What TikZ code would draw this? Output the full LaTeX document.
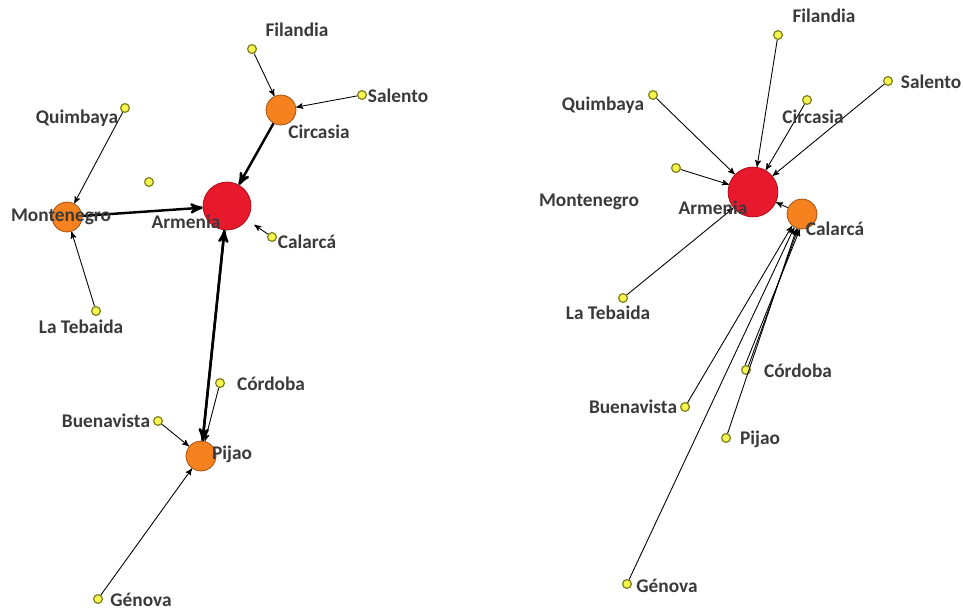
\documentclass[tikz,border=0pt]{standalone}
\usepackage{fontspec}
\setmainfont{Carlito}
\usepackage{tikz}
\usetikzlibrary{ arrows, positioning }
\definecolor{townfill}{HTML}{F6F650}
\definecolor{townline}{HTML}{7F7F1E}
\definecolor{hubfill}{HTML}{F5821F}
\definecolor{hubline}{HTML}{A9581A}
\definecolor{corefill}{HTML}{E8192C}
\definecolor{coreline}{HTML}{B3101E}
\definecolor{lbltext}{HTML}{3A3A3A}
\tikzset{
>=stealth', % filled arrow heads
x=0.02cm, y=-0.02cm, % one unit is one pixel of the picture
town/.style={circle, draw=townline, fill=townfill, line width=0.7pt, inner sep=0pt, minimum size=5pt}, % small yellow towns
hub/.style={circle, draw=hubline, fill=hubfill, line width=0.5pt, inner sep=0pt, minimum size=17pt}, % orange towns
core/.style={circle, draw=coreline, fill=corefill, line width=0.5pt, inner sep=0pt, minimum size=27.2pt}, % the red centre
lbl/.style={text=lbltext, font=\bfseries\fontsize{11}{13}\selectfont, inner sep=0pt},
weak/.style={->, line width=0.5pt},
strong/.style={->, line width=1.4pt},
}
\begin{document}
\begin{tikzpicture}
  \useasboundingbox (0,0) rectangle (963,612);

  % left network
  \node[core] (armL) at (227,206) {};
  \node[hub] (cirL) at (281,110) {};
  \node[hub] (monL) at (67,217) {};
  \node[hub] (pijL) at (201,456) {};
  \node[town] (filL) at (252,49) {};
  \node[town] (salL) at (362,95) {};
  \node[town] (quiL) at (125,108) {};
  \node[town] (anoL) at (149,182) {};
  \node[town] (calL) at (272,237) {};
  \node[town] (tebL) at (96,311) {};
  \node[town] (corL) at (220,383) {};
  \node[town] (bueL) at (158,421) {};
  \node[town] (genL) at (98,599) {};

  \path (filL) edge[weak] (cirL)
        (salL) edge[weak] (cirL)
        (cirL) edge[strong] (armL)
        (quiL) edge[weak] (monL)
        (tebL) edge[weak] (monL)
        (monL) edge[strong] (armL)
        (calL) edge[weak, shorten >=5pt] (armL)
        (pijL) edge[strong] (armL)
        (armL) edge[strong] (pijL)
        (corL) edge[weak] (pijL)
        (bueL) edge[weak] (pijL)
        (genL) edge[weak] (pijL);

  \node[lbl] (tfilL) at (297,30) {Filandia};
  \node[lbl] (tsalL) at (398,96) {Salento};
  \node[lbl] (tcirL) at (319,132) {Circasia};
  \node[lbl] (tquiL) at (77,118) {Quimbaya};
  \node[lbl] (tmonL) at (61,217) {Montenegro};
  \node[lbl] (tarmL) at (186,222) {Armenia};
  \node[lbl] (tcalL) at (307,242) {Calarcá};
  \node[lbl] (ttebL) at (81,327) {La Tebaida};
  \node[lbl] (tcorL) at (271,384) {Córdoba};
  \node[lbl] (tbueL) at (106,421) {Buenavista};
  \node[lbl] (tpijL) at (232,454) {Pijao};
  \node[lbl] (tgenL) at (141,600) {Génova};

  % right network
  \node[core, minimum size=28.3pt] (armR) at (753,192) {};
  \node[hub] (calR) at (802,214) {};
  \node[town] (filR) at (778,35) {};
  \node[town] (salR) at (888,81) {};
  \node[town] (cirR) at (807,100) {};
  \node[town] (quiR) at (653,95) {};
  \node[town] (anoR) at (676,168) {};
  \node[town] (tebR) at (623,298) {};
  \node[town] (corR) at (746,370) {};
  \node[town] (bueR) at (685,407) {};
  \node[town] (pijR) at (726,438) {};
  \node[town] (genR) at (627,584) {};

  \path (filR) edge[weak] (armR)
        (quiR) edge[weak] (armR)
        (cirR) edge[weak] (armR)
        (salR) edge[weak] (armR)
        (anoR) edge[weak] (armR)
        (tebR) edge[weak] (armR)
        (calR) edge[weak] (armR)
        (bueR) edge[weak] (calR.230)
        (genR) edge[weak] (calR.240)
        (corR.60) edge[weak] (calR.255)
        (corR.100) edge[weak] (calR.262)
        (pijR) edge[weak] (calR.250);

  \node[lbl] (tfilR) at (824,16) {Filandia};
  \node[lbl] (tsalR) at (931,82) {Salento};
  \node[lbl] (tcirR) at (813,117) {Circasia};
  \node[lbl] (tquiR) at (603,105) {Quimbaya};
  \node[lbl] (tmonR) at (589,202) {Montenegro};
  \node[lbl] (tarmR) at (713,208) {Armenia};
  \node[lbl] (tcalR) at (835,229) {Calarcá};
  \node[lbl] (ttebR) at (608,313) {La Tebaida};
  \node[lbl] (tcorR) at (798,371) {Córdoba};
  \node[lbl] (tbueR) at (633,407) {Buenavista};
  \node[lbl] (tpijR) at (760,439) {Pijao};
  \node[lbl] (tgenR) at (667,586) {Génova};
\end{tikzpicture}
\end{document}
